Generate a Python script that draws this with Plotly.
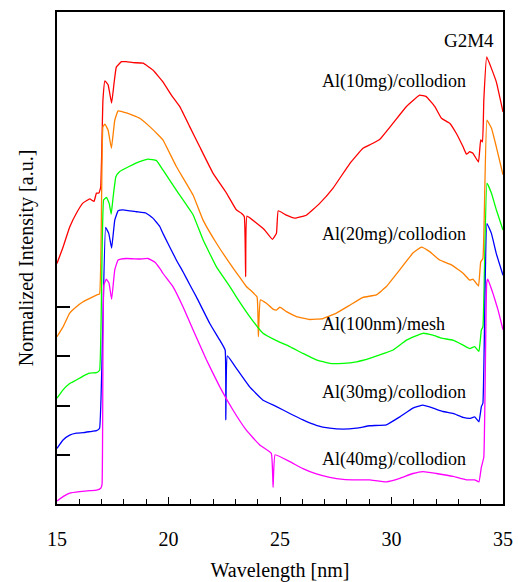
import plotly.graph_objects as go

# ---- data (wavelength in nm, offset normalized intensity in a.u.) ----
red_x = [15.00, 15.27, 15.57, 15.87, 16.17, 16.47, 16.66, 16.77, 16.88, 16.96, 17.06, 17.15, 17.29, 17.45,
         17.56, 17.66, 17.89, 18.11, 18.41, 18.86, 19.30, 19.75, 20.13, 20.50, 20.95, 21.40, 22.00, 22.60,
         23.04, 23.27, 23.40, 23.46, 23.52, 23.94, 24.31, 24.66, 24.84, 24.92, 25.29, 25.66, 26.18, 26.78,
         27.38, 28.13, 28.72, 29.02, 29.47, 30.07, 30.67, 31.26, 31.56, 31.94, 32.24, 32.61, 32.91, 33.21,
         33.36, 33.51, 33.65, 33.90, 34.00, 34.08, 34.14, 34.27, 34.45, 34.70, 35.00]
red_y = [4.89, 5.22, 5.63, 5.91, 6.12, 6.20, 6.15, 6.32, 6.32, 6.44, 8.21, 8.60, 8.52, 8.15,
         8.56, 8.88, 8.99, 8.99, 8.97, 8.96, 8.82, 8.58, 8.31, 8.08, 7.67, 7.26, 6.72, 6.32,
         5.98, 5.91, 5.84, 4.62, 5.85, 5.71, 5.57, 5.38, 5.50, 5.96, 5.87, 5.81, 5.87, 6.11,
         6.42, 6.92, 7.23, 7.30, 7.41, 7.74, 8.08, 8.31, 8.28, 8.08, 7.84, 7.74, 7.53, 7.26,
         7.11, 7.16, 7.13, 6.95, 7.40, 7.36, 8.21, 9.09, 8.89, 8.58, 7.97]

orange_x = [15.00, 15.27, 15.57, 15.87, 16.17, 16.47, 16.79, 16.91, 17.06, 17.15, 17.29, 17.44, 17.59, 17.74,
            18.11, 18.71, 19.16, 19.61, 19.75, 20.35, 21.10, 21.55, 22.15, 22.75, 23.19, 23.49, 23.64, 23.97,
            24.03, 24.12, 24.39, 24.69, 24.84, 24.99, 25.29, 25.74, 26.33, 26.93, 27.53, 28.13, 28.72, 29.32,
            29.77, 30.37, 30.96, 31.34, 31.71, 32.16, 32.69, 33.21, 33.51, 33.65, 33.90, 34.00, 34.10, 34.28,
            34.48, 34.70, 35.00]
orange_y = [3.40, 3.60, 3.88, 4.01, 4.11, 4.18, 4.25, 4.27, 7.67, 7.72, 7.60, 7.23, 7.80, 7.99,
            7.95, 7.84, 7.67, 7.47, 7.40, 6.86, 6.28, 5.77, 5.30, 4.89, 4.61, 4.42, 4.36, 4.21,
            3.40, 4.15, 4.08, 3.96, 3.94, 4.00, 3.91, 3.81, 3.75, 3.77, 3.88, 4.04, 4.20, 4.25,
            4.42, 4.76, 5.10, 5.22, 5.13, 4.96, 4.86, 4.69, 4.55, 4.57, 4.43, 4.92, 4.99, 7.80,
            7.64, 7.26, 6.69]

green_x = [15.00, 15.27, 15.57, 15.87, 16.17, 16.47, 16.77, 16.91, 17.09, 17.22, 17.34, 17.43, 17.52, 17.64,
           17.79, 18.23, 18.71, 19.09, 19.46, 19.75, 20.35, 21.10, 21.55, 22.15, 22.75, 23.04, 23.64, 24.24,
           24.84, 25.44, 26.03, 26.63, 27.23, 27.83, 28.43, 29.02, 29.47, 30.07, 30.67, 31.41, 31.86, 32.24,
           32.76, 33.21, 33.51, 33.73, 33.92, 34.03, 34.10, 34.28, 34.48, 34.70, 35.00]
green_y = [2.15, 2.32, 2.45, 2.52, 2.60, 2.66, 2.67, 2.72, 6.18, 6.23, 6.11, 5.89, 6.25, 6.65,
           6.75, 6.86, 6.96, 7.01, 6.98, 6.79, 6.38, 5.88, 5.37, 4.82, 4.42, 4.21, 3.81, 3.47,
           3.32, 3.20, 3.06, 2.93, 2.86, 2.86, 2.89, 2.96, 3.03, 3.13, 3.33, 3.47, 3.43, 3.37,
           3.33, 3.23, 3.16, 3.20, 3.10, 3.54, 3.60, 6.52, 6.32, 5.98, 5.57]

blue_x = [15.00, 15.27, 15.57, 15.87, 16.17, 16.47, 16.77, 16.91, 17.18, 17.32, 17.45, 17.59, 17.74, 17.96,
          18.56, 19.00, 19.30, 19.61, 19.75, 20.35, 20.65, 20.95, 21.25, 21.85, 22.30, 22.54, 22.57, 22.64,
          23.04, 23.64, 24.24, 24.84, 25.44, 26.03, 26.63, 27.23, 27.83, 28.43, 29.02, 29.77, 30.37, 30.96,
          31.41, 31.86, 32.31, 32.76, 33.21, 33.51, 33.73, 33.92, 34.03, 34.10, 34.28, 34.48, 34.70, 35.00]
blue_y = [1.13, 1.30, 1.40, 1.44, 1.45, 1.47, 1.49, 1.54, 5.62, 5.50, 5.20, 5.77, 5.96, 5.98,
          5.94, 5.91, 5.81, 5.64, 5.50, 4.96, 4.72, 4.46, 4.21, 3.67, 3.33, 3.13, 1.71, 3.01,
          2.76, 2.38, 2.11, 1.98, 1.84, 1.71, 1.60, 1.54, 1.52, 1.54, 1.59, 1.61, 1.77, 1.95,
          2.01, 1.95, 1.88, 1.84, 1.76, 1.74, 1.77, 1.67, 1.98, 2.05, 5.70, 5.50, 5.09, 4.65]

magenta_x = [15.00, 15.27, 15.57, 16.02, 16.47, 16.77, 16.96, 17.02, 17.10, 17.21, 17.33, 17.45, 17.59, 17.74,
             18.11, 18.71, 19.08, 19.38, 19.61, 19.75, 20.20, 20.65, 21.10, 21.70, 22.30, 22.89, 23.49, 24.09,
             24.61, 24.69, 24.78, 25.44, 26.03, 26.63, 27.23, 27.83, 28.43, 29.02, 29.77, 30.37, 30.96, 31.41,
             32.01, 32.76, 33.36, 33.73, 33.92, 34.03, 34.14, 34.27, 34.32, 34.55, 34.78, 35.00]
magenta_y = [0.06, 0.15, 0.22, 0.25, 0.27, 0.28, 0.32, 0.40, 4.45, 4.57, 4.49, 4.16, 4.76, 4.96,
             4.99, 4.98, 4.99, 4.92, 4.79, 4.69, 4.42, 4.01, 3.54, 2.93, 2.38, 1.91, 1.50, 1.20,
             1.03, 0.34, 1.00, 0.86, 0.72, 0.61, 0.54, 0.50, 0.49, 0.49, 0.45, 0.52, 0.62, 0.66,
             0.62, 0.56, 0.49, 0.49, 0.45, 0.75, 0.95, 4.50, 4.57, 4.28, 3.94, 3.54]

series_colors = ["#ff0000", "#ff8000", "#00ff00", "#0000ff", "#ff00ff"]
series_names = ["Al(10mg)/collodion", "Al(20mg)/collodion", "Al(100nm)/mesh",
                "Al(30mg)/collodion", "Al(40mg)/collodion"]
label_y = [8.58, 5.47, 3.64, 2.26, 0.91]
label_x = 26.78
offset_ticks = [1, 2, 3, 4]
x_major = [15, 20, 25, 30, 35]
title_text = "G2M4"

fig = go.Figure()
all_x = [red_x, orange_x, green_x, blue_x, magenta_x]
all_y = [red_y, orange_y, green_y, blue_y, magenta_y]
for xs, ys, c, n in zip(all_x, all_y, series_colors, series_names):
    fig.add_trace(go.Scatter(x=xs, y=ys, mode="lines", name=n,
                             line=dict(color=c, width=1.3, shape="spline", smoothing=0.3)))

font_family = "Liberation Serif"
for n, ly in zip(series_names, label_y):
    fig.add_annotation(x=label_x, y=ly, text=n, showarrow=False, xanchor="left",
                       yanchor="middle", font=dict(family=font_family, size=18, color="black"))
fig.add_annotation(x=34.67, y=9.43, text=title_text, showarrow=False, xanchor="right",
                   yanchor="middle", font=dict(family=font_family, size=19, color="black"))

fig.update_layout(
    width=518, height=582,
    margin=dict(l=57, r=15, t=12, b=78, autoexpand=False),
    paper_bgcolor="white", plot_bgcolor="white",
    showlegend=False,
    font=dict(family=font_family, size=20, color="black"),
)
fig.update_xaxes(
    range=[15, 35], showgrid=False, zeroline=False, automargin=False,
    showline=True, linecolor="black", linewidth=1.5, mirror=True,
    tickmode="array", tickvals=x_major, ticktext=[str(v) for v in x_major],
    ticks="inside", ticklen=7, tickwidth=1, tickcolor="black",
    minor=dict(dtick=1, ticks="inside", ticklen=5, tickwidth=1, tickcolor="black", showgrid=False),
    tickfont=dict(family=font_family, size=20, color="black"),
    ticklabelstandoff=16,
    title=dict(text="Wavelength [nm]", font=dict(family=font_family, size=20, color="black"), standoff=20),
)
fig.update_yaxes(
    range=[0, 10], showgrid=False, zeroline=False, automargin=False,
    showline=True, linecolor="black", linewidth=1.5, mirror=True,
    tickmode="array", tickvals=offset_ticks, ticktext=["" for _ in offset_ticks],
    ticks="inside", ticklen=13, tickwidth=2, tickcolor="black",
    title=dict(text="Normalized Intensity [a.u.]", font=dict(family=font_family, size=20, color="black"), standoff=12),
)

fig.write_html("out.html")
